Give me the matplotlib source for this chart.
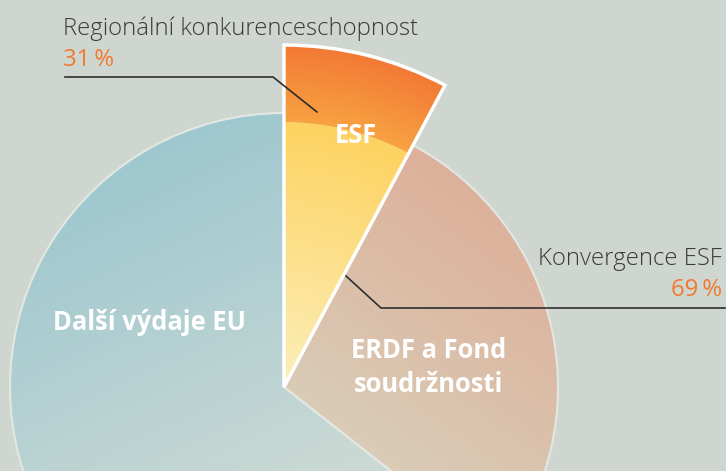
import numpy as np
import matplotlib
matplotlib.use("Agg")
import matplotlib.pyplot as plt
from matplotlib.patches import Wedge
from matplotlib.colors import to_rgb

# ---- data ----
categories = ["Další výdaje EU", "ERDF a Fond\nsoudržnosti", "ESF"]
shares = [64.4, 27.8, 7.8]          # % of EU budget
esf_parts = ["Regionální konkurenceschopnost", "Konvergence ESF"]
esf_shares = [31, 69]               # % of ESF

W, H = 726, 471
BG = "#cfd6cf"
FONT = ["Open Sans", "DejaVu Sans"]

fig = plt.figure(figsize=(W / 100, H / 100), dpi=100, facecolor=BG)
ax = fig.add_axes([0, 0, 1, 1])
ax.set_xlim(0, W)
ax.set_ylim(0, H)
ax.set_facecolor(BG)
ax.axis("off")

cx, cy = 284, H - 387
R = 274
R_esf = 342
R_split = 265

# angles (clockwise from 12 o'clock)
total = sum(shares)
a_esf = 360 * shares[2] / total
a_erdf = 360 * shares[1] / total
esf_t1, esf_t2 = 90 - a_esf, 90
erdf_t1, erdf_t2 = esf_t1 - a_erdf, esf_t1
blue_t1, blue_t2 = 90, 360 + erdf_t1

yy, xx = np.mgrid[0:H, 0:W]
Y = H - yy - 0.5
X = xx + 0.5


def lin_grad(p0, p1, c0, c1):
    d = np.array(p1, float) - np.array(p0, float)
    t = ((X - p0[0]) * d[0] + (Y - p0[1]) * d[1]) / (d @ d)
    t = np.clip(t, 0, 1)[..., None]
    return (1 - t) * np.array(to_rgb(c0)) + t * np.array(to_rgb(c1))


def rad_grad(r0, r1, c0, c1):
    r = np.hypot(X - cx, Y - cy)
    t = np.clip((r - r0) / (r1 - r0), 0, 1)[..., None]
    return (1 - t) * np.array(to_rgb(c0)) + t * np.array(to_rgb(c1))


def fill(img, patch, z):
    ax.add_patch(patch)
    im = ax.imshow(img, extent=(0, W, 0, H), origin="upper", zorder=z,
                   interpolation="bilinear")
    im.set_clip_path(patch)


# Blue slice (other EU spending)
blue = Wedge((cx, cy), R, blue_t1, blue_t2, facecolor="none", edgecolor="none")
fill(lin_grad((170, H - 130), (330, H - 470), "#9dc7cf", "#cad9d4"), blue, 1)

# ERDF slice
erdf = Wedge((cx, cy), R, erdf_t1, erdf_t2, facecolor="none", edgecolor="none")
fill(lin_grad((520, H - 200), (340, H - 450), "#ddaf99", "#d9cdb8"), erdf, 1)

# outlines of the base pie
ax.add_patch(Wedge((cx, cy), R, erdf_t1, erdf_t2,
                   facecolor="none", edgecolor="#e3e7e1", lw=1.5, zorder=1.5))
ax.add_patch(Wedge((cx, cy), R, blue_t1, blue_t2,
                   facecolor="none", edgecolor="#e3e7e1", lw=1.5, zorder=1.5))

# ESF wedge: yellow inner (Konvergence), orange outer ring (Regional)
yel = Wedge((cx, cy), R_split, esf_t1, esf_t2, facecolor="none", edgecolor="none")
fill(rad_grad(0, R_split, "#fbefba", "#fed260"), yel, 2)
org = Wedge((cx, cy), R_esf, esf_t1, esf_t2, width=R_esf - R_split,
            facecolor="none", edgecolor="none")
fill(rad_grad(R_split, R_esf, "#f8a242", "#f27934"), org, 2)
ax.add_patch(Wedge((cx, cy), R_esf, esf_t1, esf_t2,
                   facecolor="none", edgecolor="white", lw=2.5, zorder=4))

# labels inside slices
bold = dict(color="white", fontweight="bold", family=FONT, zorder=6)
ax.text(149, H - 330, categories[0], ha="center", va="baseline", fontsize=18.4, **bold)
ax.text(429, H - 358, "ERDF a Fond", ha="center", va="baseline", fontsize=18.4, **bold)
ax.text(429, H - 392, "soudržnosti", ha="center", va="baseline", fontsize=18.4, **bold)
ax.text(356, H - 143, categories[2], ha="center", va="baseline", fontsize=18.4, **bold)

# outer labels
dark = "#3a3a3a"
orange = "#f07a30"
ax.text(63, H - 35, esf_parts[0], ha="left", va="baseline", fontsize=17.2,
        color=dark, family=FONT, fontweight="light", zorder=6)
ax.text(63, H - 66, f"{esf_shares[0]}\u2009%", ha="left", va="baseline", fontsize=17.2,
        color=orange, family=FONT, zorder=6)
ax.text(722, H - 265, esf_parts[1], ha="right", va="baseline", fontsize=17.2,
        color=dark, family=FONT, fontweight="light", zorder=6)
ax.text(722, H - 296, f"{esf_shares[1]}\u2009%", ha="right", va="baseline", fontsize=17.2,
        color=orange, family=FONT, zorder=6)

# leader lines
ax.plot([65, 273, 317], [H - 77, H - 77, H - 112], color="#2e2e2e", lw=1.2, zorder=5)
ax.plot([346, 381, 725], [H - 276, H - 308, H - 308], color="#2e2e2e", lw=1.2, zorder=5)

fig.savefig("out.png", dpi=100, facecolor=BG)
